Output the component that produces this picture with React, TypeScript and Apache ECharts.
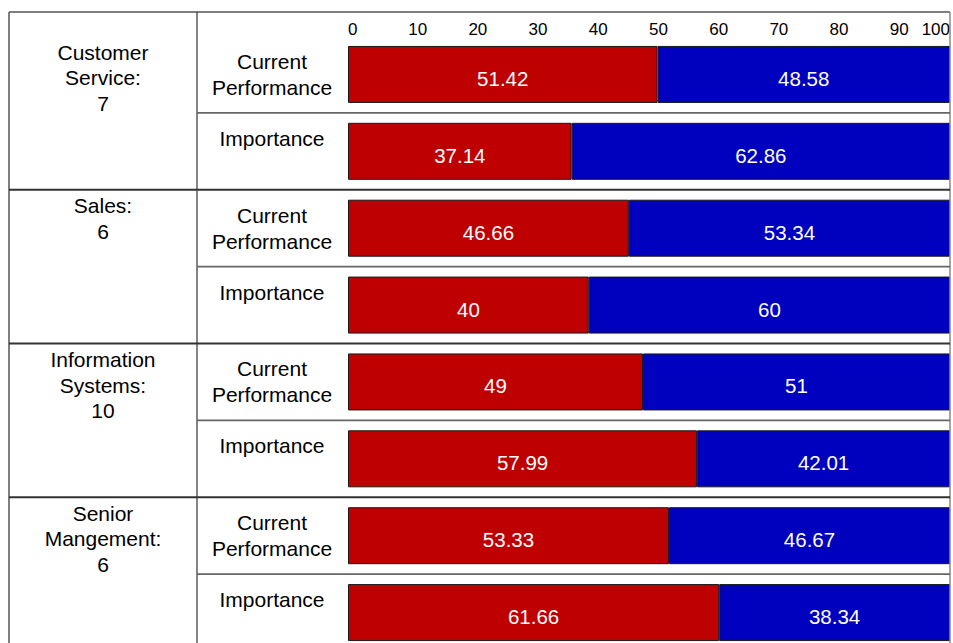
import React, { useEffect, useRef } from "react";
import * as echarts from "echarts";

// ---- data ----
const rowLabels = [
  "Current Performance",
  "Importance",
  "Current Performance",
  "Importance",
  "Current Performance",
  "Importance",
  "Current Performance",
  "Importance",
];
const groupLabels = [
  "Customer\nService:\n7",
  "Sales:\n6",
  "Information\nSystems:\n10",
  "Senior\nMangement:\n6",
];
const redValues = [51.42, 37.14, 46.66, 40, 49, 57.99, 53.33, 61.66];
const blueValues = [48.58, 62.86, 53.34, 60, 51, 42.01, 46.67, 38.34];
const xMin = 0;
const xMax = 100;
const xStep = 10;

// ---- layout ----
const W = 953;
const H = 643;
const GRID_LEFT = 348;
const GRID_RIGHT_X = 950;
const GRID_TOP = 36;
const GRID_H = 615;
const FONT = "'Liberation Sans', Arial, Helvetica, sans-serif";

function padLines(s: string, n: number): string {
  const k = s.split("\n").length;
  let out = s;
  for (let i = k; i < n; i++) out += "\n ";
  return out;
}

export default function App() {
  const ref = useRef<HTMLDivElement>(null);
  useEffect(() => {
    if (!ref.current) return;
    const chart = echarts.init(ref.current, undefined, { renderer: "svg" });
    const nRows = rowLabels.length;
    const pitch = GRID_H / nRows;
    const lines: any[] = [];
    const L = 9;
    const TOP = 12;
    const COL = 197;
    // outer frame
    lines.push({ x1: L, y1: TOP, x2: GRID_RIGHT_X, y2: TOP, c: "#555", w: 1.5 });
    lines.push({ x1: L, y1: TOP, x2: L, y2: H, c: "#555", w: 1.5 });
    lines.push({ x1: GRID_RIGHT_X, y1: TOP, x2: GRID_RIGHT_X, y2: H, c: "#888", w: 1.5 });
    lines.push({ x1: COL, y1: TOP, x2: COL, y2: H, c: "#333", w: 1.2 });
    for (let i = 1; i < nRows; i++) {
      const y = GRID_TOP + pitch * i;
      const isGroup = i % 2 === 0;
      lines.push({
        x1: isGroup ? L : COL,
        y1: y,
        x2: GRID_RIGHT_X,
        y2: y,
        c: isGroup ? "#333" : "#666",
        w: isGroup ? 2 : 1.6,
      });
    }
    const graphic = lines.map((l) => ({
      type: "line",
      silent: true,
      z: 10,
      shape: { x1: l.x1, y1: l.y1, x2: l.x2, y2: l.y2 },
      style: { stroke: l.c, lineWidth: l.w },
    }));

    chart.setOption({
      animation: false,
      backgroundColor: "#fff",
      textStyle: { fontFamily: FONT },
      grid: {
        left: GRID_LEFT,
        top: GRID_TOP,
        width: GRID_RIGHT_X - GRID_LEFT,
        height: GRID_H,
        containLabel: false,
        outerBoundsMode: "none",
      },
      xAxis: {
        type: "value",
        position: "top",
        min: xMin,
        max: xMax,
        interval: xStep,
        axisLine: { show: false },
        axisTick: { show: false },
        splitLine: { show: false },
        axisLabel: {
          show: true,
          fontSize: 17,
          color: "#000",
          fontFamily: FONT,
          align: "left",
          alignMaxLabel: "right",
          margin: -2,
        },
      },
      yAxis: [
        {
          type: "category",
          inverse: true,
          position: "left",
          data: rowLabels,
          axisLine: { show: false },
          axisTick: { show: false },
          splitLine: { show: false },
          axisLabel: {
            interval: 0,
            margin: GRID_LEFT - 272,
            align: "center",
            verticalAlign: "middle",
            fontSize: 21,
            lineHeight: 26,
            color: "#000",
            fontFamily: FONT,
            formatter: (v: string) => padLines(v.replace(" ", "\n"), 2),
          },
        },
        {
          type: "category",
          inverse: true,
          position: "left",
          data: rowLabels,
          axisLine: { show: false },
          axisTick: { show: false },
          splitLine: { show: false },
          axisLabel: {
            interval: 0,
            margin: GRID_LEFT - 103,
            align: "center",
            verticalAlign: "middle",
            fontSize: 21,
            lineHeight: 25.5,
            color: "#000",
            fontFamily: FONT,
            rich: {
              sp: { fontSize: 2, lineHeight: 6.5 },
            },
            formatter: (_v: string, i: number) =>
              i % 2 === 0 ? "{sp| }\n" + padLines(groupLabels[i / 2], 3) : "",
          },
        },
      ],
      series: [
        {
          type: "bar",
          stack: "total",
          yAxisIndex: 0,
          barWidth: 57,
          data: redValues,
          itemStyle: { color: "#bf0000", borderColor: "#1a1a1a", borderWidth: 1 },
          label: {
            show: true,
            position: "inside",
            color: "#fff",
            fontSize: 20.5,
            fontFamily: FONT,
            offset: [0, 4],
          },
        },
        {
          type: "bar",
          stack: "total",
          yAxisIndex: 0,
          barWidth: 57,
          data: blueValues,
          itemStyle: { color: "#0000bf", borderColor: "#1a1a1a", borderWidth: 1 },
          label: {
            show: true,
            position: "inside",
            color: "#fff",
            fontSize: 20.5,
            fontFamily: FONT,
            offset: [0, 4],
          },
        },
      ],
      graphic,
    });
    return () => chart.dispose();
  }, []);
  return (
    <div
      ref={ref}
      style={{ position: "fixed", left: 0, top: 0, width: W, height: H }}
    />
  );
}
